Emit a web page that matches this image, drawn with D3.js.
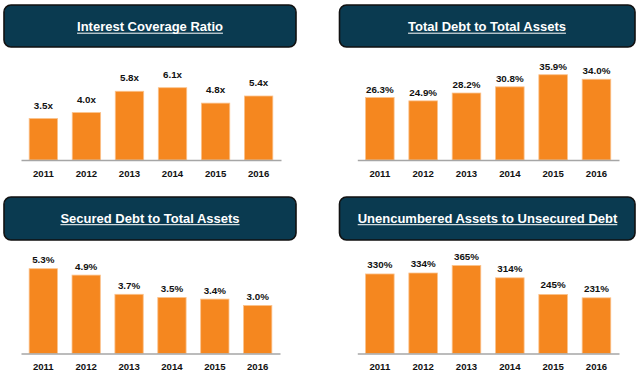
<!DOCTYPE html>
<html>
<head>
<meta charset="utf-8">
<script src="https://cdn.jsdelivr.net/npm/d3@7"></script>
<style>
  html, body { margin: 0; padding: 0; background: #ffffff; }
  svg { display: block; }
  text { font-family: "Liberation Sans", Arial, sans-serif; }
</style>
</head>
<body>
<svg id="chart" width="640" height="381"></svg>
<script>
// ---- Data ----
const years = ["2011", "2012", "2013", "2014", "2015", "2016"];
const titles = [
  "Interest Coverage Ratio",
  "Total Debt to Total Assets",
  "Secured Debt to Total Assets",
  "Unencumbered Assets to Unsecured Debt"
];
const interestCoverage = [3.5, 4.0, 5.8, 6.1, 4.8, 5.4];
const totalDebtToAssets = [26.3, 24.9, 28.2, 30.8, 35.9, 34.0];
const securedDebtToAssets = [5.3, 4.9, 3.7, 3.5, 3.4, 3.0];
const unencumberedToUnsecured = [330, 334, 365, 314, 245, 231];
const labelFormats = [
  v => d3.format(".1f")(v) + "x",
  v => d3.format(".1f")(v) + "%",
  v => d3.format(".1f")(v) + "%",
  v => d3.format("d")(v) + "%"
];
const seriesList = [interestCoverage, totalDebtToAssets, securedDebtToAssets, unencumberedToUnsecured];
const domainMax = [8, 40, 6, 400];

// ---- Layout ----
const layout = [
  { box: [4, 5, 292, 42], titleX: 150, titleY: 31, axis: [21, 281], base: 160, h: 94.8, lblOff: 10 },
  { box: [339.5, 5, 295.5, 42], titleX: 487, titleY: 31, axis: [357.3, 619], base: 160, h: 95, lblOff: 5 },
  { box: [4, 197, 292, 43], titleX: 150, titleY: 222.5, axis: [21, 280], base: 353.5, h: 96, lblOff: 5.5 },
  { box: [339.5, 197, 295.5, 43], titleX: 487.5, titleY: 222.5, axis: [357.3, 619], base: 353.5, h: 96.4, lblOff: 6 }
];

const svg = d3.select("#chart");
const BAR = "#f5871f";
const HEAD = "#0a3a50";

layout.forEach((L, i) => {
  const g = svg.append("g");
  // header box
  g.append("rect")
    .attr("x", L.box[0]).attr("y", L.box[1])
    .attr("width", L.box[2]).attr("height", L.box[3])
    .attr("rx", 7).attr("ry", 7)
    .attr("fill", HEAD).attr("stroke", "#111111").attr("stroke-width", 1.6);
  const t = g.append("text")
    .attr("x", L.titleX).attr("y", L.titleY)
    .attr("text-anchor", "middle")
    .attr("fill", "#ffffff")
    .attr("font-size", 13).attr("font-weight", "bold")
    .text(titles[i]);
  const tw = t.node().getComputedTextLength();
  g.append("line")
    .attr("x1", L.titleX - tw / 2).attr("x2", L.titleX + tw / 2)
    .attr("y1", L.titleY + 2.2).attr("y2", L.titleY + 2.2)
    .attr("stroke", "#ffffff").attr("stroke-width", 1);

  // scales
  const x = d3.scaleBand().domain(years).range(L.axis).paddingInner(0.34).paddingOuter(0.19);
  const y = d3.scaleLinear().domain([0, domainMax[i]]).range([L.base, L.base - L.h]);
  const data = years.map((yr, k) => ({ yr, v: seriesList[i][k] }));

  g.selectAll("rect.bar").data(data).enter().append("rect")
    .attr("class", "bar")
    .attr("x", d => x(d.yr)).attr("width", x.bandwidth())
    .attr("y", d => y(d.v)).attr("height", d => y(0) - y(d.v))
    .attr("fill", BAR).attr("stroke", "#fbc28c").attr("stroke-width", 0.8);

  // axis
  const ax = g.append("g").attr("transform", `translate(0,${L.base})`)
    .call(d3.axisBottom(x).tickSize(0).tickPadding(10));
  ax.select(".domain").attr("stroke", "#a6a6a6").attr("stroke-width", 1.5);
  ax.selectAll("text")
    .attr("font-family", "'Liberation Sans', Arial, sans-serif")
    .attr("font-size", 9.6).attr("font-weight", "bold").attr("fill", "#111111");

  // value labels
  g.selectAll("text.val").data(data).enter().append("text")
    .attr("class", "val")
    .attr("x", d => x(d.yr) + x.bandwidth() / 2)
    .attr("y", d => y(d.v) - L.lblOff)
    .attr("text-anchor", "middle")
    .attr("font-size", 9.8).attr("font-weight", "bold").attr("fill", "#111111")
    .text(d => labelFormats[i](d.v));
});
</script>
</body>
</html>
